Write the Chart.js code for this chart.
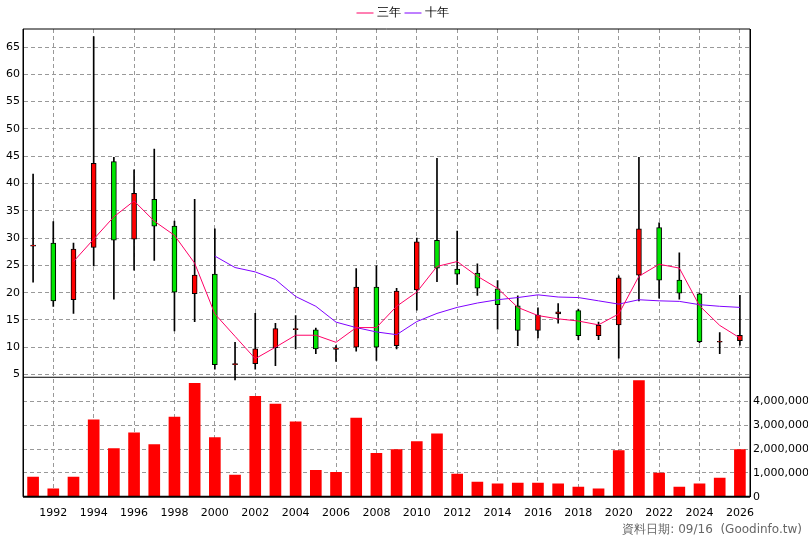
<!DOCTYPE html>
<html>
<head>
<meta charset="utf-8">
<script src="https://cdn.jsdelivr.net/npm/chart.js@4.4.1/dist/chart.umd.min.js"></script>
<style>
  body { margin: 0; background: #fff; }
  #wrap { position: relative; width: 808px; height: 540px; }
  #note { position: absolute; right: 6px; top: 521px; font: 12px "DejaVu Sans", sans-serif; color: #666; }
</style>
</head>
<body>
<div id="wrap">
  <canvas id="chart" width="808" height="540"></canvas>
  <div id="note">資料日期: 09/16&nbsp;&nbsp;(Goodinfo.tw)</div>
</div>
<script>
const years = ['1991','1992','1993','1994','1995','1996','1997','1998','1999','2000','2001','2002',
    '2003','2004','2005','2006','2007','2008','2009','2010','2011','2012','2013','2014',
    '2015','2016','2017','2018','2019','2020','2021','2022','2023','2024','2025','2026'];
const openP  = [28.7,29.1,18.7,28.3,44.0,29.8,37.1,32.2,19.8,23.4,7.0,7.0,
    9.9,13.4,13.2,9.6,10.0,21.0,10.3,20.5,29.6,24.3,23.6,20.7,
    17.6,13.1,16.1,16.7,12.1,14.1,23.2,31.9,22.3,19.8,11.1,11.2];
const closeP = [28.7,18.5,28.0,43.7,29.6,38.2,32.2,20.1,23.2,6.8,7.0,9.7,
    13.4,13.4,9.7,9.9,21.0,10.0,20.3,29.3,24.5,23.4,20.8,17.8,
    13.1,15.9,16.5,12.1,14.0,22.7,31.7,22.3,19.9,11.0,11.1,12.2];
const highP  = [41.7,33.0,29.1,66.9,44.8,42.5,46.3,33.1,37.1,31.7,10.9,16.2,
    14.4,15.8,13.5,10.3,24.4,24.9,20.8,30.0,44.6,31.3,25.3,22.2,
    19.4,17.2,18.0,17.0,14.6,23.1,44.8,32.8,27.3,19.9,12.7,19.5];
const lowP   = [21.9,17.5,16.2,24.9,18.8,24.1,25.9,13.0,14.7,6.0,4.0,6.0,
    6.6,9.7,8.8,7.4,9.3,7.6,9.7,16.8,22.0,21.5,19.5,13.3,
    10.3,11.7,14.4,11.4,11.4,8.0,18.5,19.0,18.8,10.8,8.8,10.4];
const ma3  = [null,null,25.7,29.8,33.9,36.8,33.1,30.5,25.4,16.1,12.0,7.9,
    10.0,12.2,12.2,10.9,13.6,13.6,17.5,20.1,24.8,25.7,23.0,20.8,
    17.3,15.8,15.2,14.8,14.1,16.1,23.0,25.2,24.5,17.6,14.0,11.7];
const ma10 = [null,null,null,null,null,null,null,null,null,26.7,24.6,23.8,
    22.4,19.3,17.5,14.6,13.6,12.8,12.3,14.7,16.2,17.3,18.1,18.7,
    19.1,19.6,19.2,19.1,18.5,17.9,18.7,18.5,18.4,17.8,17.5,17.3];
const volume = [830000,330000,830000,3220000,2020000,2680000,2190000,3340000,4750000,2480000,910000,4210000,
    3880000,3140000,1110000,1030000,3300000,1820000,1980000,2310000,2640000,950000,620000,540000,
    580000,580000,540000,410000,330000,1940000,4870000,990000,410000,540000,780000,1980000];
const priceTicks = [5,10,15,20,25,30,35,40,45,50,55,60,65];
const volTicks = [0,1000000,2000000,3000000,4000000];

const RED = '#ff0000', GREEN = '#00e600';
const upColors = years.map((_, i) => closeP[i] >= openP[i] ? RED : GREEN);

const axisBorder = { color: '#000', width: 1, dash: [4, 3] };

new Chart(document.getElementById('chart'), {
    data: {
        labels: years,
        datasets: [
            { type: 'line', label: '三年', data: ma3, borderColor: '#ff0066', borderWidth: 1,
              pointRadius: 0, yAxisID: 'y', order: 0 },
            { type: 'line', label: '十年', data: ma10, borderColor: '#7f00ff', borderWidth: 1,
              pointRadius: 0, yAxisID: 'y', order: 0 },
            { type: 'bar', label: 'body', data: years.map((_, i) => [openP[i], closeP[i]]),
              backgroundColor: upColors, borderColor: '#000', borderWidth: 1, borderSkipped: false,
              barThickness: 5, minBarLength: 1, grouped: false, yAxisID: 'y', order: 1 },
            { type: 'bar', label: 'wick', data: years.map((_, i) => [lowP[i], highP[i]]),
              backgroundColor: '#000', barThickness: 1, grouped: false, yAxisID: 'y', order: 2 },
            { type: 'bar', label: 'vol', data: volume, backgroundColor: RED,
              barThickness: 11, grouped: false, yAxisID: 'yv', order: 3 }
        ]
    },
    options: {
        responsive: false,
        animation: false,
        layout: { padding: { left: 0, right: 0, top: 1, bottom: 10 } },
        plugins: {
            legend: {
                position: 'top',
                labels: {
                    filter: (item) => item.text === '三年' || item.text === '十年',
                    usePointStyle: true, pointStyle: 'line', boxWidth: 12,
                    color: '#000', font: { size: 12, family: 'DejaVu Sans' }, padding: 6
                }
            },
            tooltip: { enabled: false }
        },
        scales: {
            x: {
                grid: { offset: false, drawTicks: false, lineWidth: 1,
                    color: (ctx) => (ctx.index !== undefined && Number(years[ctx.index]) % 2 === 0) ? '#999' : 'rgba(0,0,0,0)' },
                border: axisBorder,
                ticks: { color: '#000', font: { size: 11, family: 'DejaVu Sans' }, maxRotation: 0, autoSkip: false,
                    padding: 10,
                    callback: (v, i) => Number(years[i]) % 2 === 0 ? years[i] : '' }
            },
            y: {
                position: 'left', min: -17.4, max: 68.3,
                afterBuildTicks: (s) => { s.ticks = priceTicks.map(v => ({ value: v })); },
                afterFit: (s) => { s.width = 23; },
                grid: { color: '#999', drawTicks: false },
                border: axisBorder,
                ticks: { color: '#000', font: { size: 11, family: 'DejaVu Sans' }, padding: 3 }
            },
            yv: {
                position: 'right', min: 0, max: 19600000,
                afterBuildTicks: (s) => { s.ticks = volTicks.map(v => ({ value: v })); },
                afterFit: (s) => { s.width = 58; },
                grid: { color: '#999', drawTicks: false },
                border: axisBorder,
                ticks: { color: '#000', font: { size: 11, family: 'DejaVu Sans' }, padding: 3,
                    callback: (v) => v.toLocaleString('en-US') }
            }
        }
    },
    plugins: [{
        id: 'panelLine',
        afterDatasetsDraw(chart) {
            const { ctx, chartArea, scales } = chart;
            const y = scales.y.getPixelForValue(4.5);
            ctx.save();
            ctx.strokeStyle = '#000';
            ctx.lineWidth = 1;
            ctx.beginPath();
            ctx.moveTo(chartArea.left, y);
            ctx.lineTo(chartArea.right, y);
            ctx.moveTo(chartArea.left, chartArea.top);
            ctx.lineTo(chartArea.right, chartArea.top);
            ctx.moveTo(chartArea.left, chartArea.top);
            ctx.lineTo(chartArea.left, chartArea.bottom);
            ctx.moveTo(chartArea.right, chartArea.top);
            ctx.lineTo(chartArea.right, chartArea.bottom);
            ctx.stroke();
            ctx.lineWidth = 2;
            ctx.beginPath();
            ctx.moveTo(chartArea.left, chartArea.bottom);
            ctx.lineTo(chartArea.right, chartArea.bottom);
            ctx.stroke();
            ctx.restore();
        }
    }]
});
</script>
</body>
</html>
